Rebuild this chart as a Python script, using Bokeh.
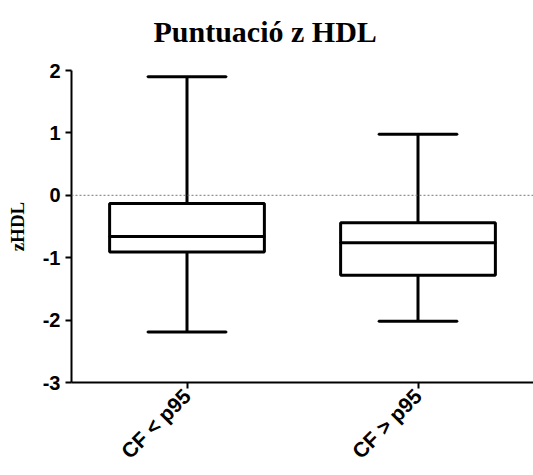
import math
from bokeh.plotting import figure
from bokeh.models import FactorRange, Range1d, FixedTicker, Span, ColumnDataSource, Title
from bokeh.embed import file_html
from bokeh.resources import INLINE

categories = ["CF < p95", "CF > p95"]
whisker_low = [-2.19, -2.02]
q1 = [-0.91, -1.28]
median = [-0.66, -0.76]
q3 = [-0.13, -0.44]
whisker_high = [1.90, 0.98]
y_ticks = [-3, -2, -1, 0, 1, 2]

src = ColumnDataSource(dict(cat=categories, lo=whisker_low, q1=q1, med=median,
                            q3=q3, hi=whisker_high))

p = figure(width=533, height=475, x_range=FactorRange(factors=categories, range_padding=0),
           y_range=Range1d(-3, 2), output_backend="svg", toolbar_location=None,
           min_border_left=71, min_border_right=0, min_border_top=70, min_border_bottom=93)

p.title = Title(text="Puntuació z HDL", align="left", offset=82,
                text_font="Liberation Serif", text_font_size="30px",
                text_font_style="bold", text_color="black", standoff=25,
                vertical_align="top")
# thin spacer between the title and the plot area
p.add_layout(Title(text=" ", text_font_size="6px", standoff=0), "above")

p.outline_line_color = None
p.xgrid.grid_line_color = None
p.ygrid.grid_line_color = None
p.background_fill_color = "white"
p.border_fill_color = "white"

# zero reference line
p.add_layout(Span(location=0, dimension="width", line_color="#777777",
                  line_width=1, line_dash="2 2"))

# whiskers
p.segment(x0="cat", y0="q3", x1="cat", y1="hi", source=src, line_color="black", line_width=3)
p.segment(x0="cat", y0="lo", x1="cat", y1="q1", source=src, line_color="black", line_width=3)
# caps
p.rect(x="cat", y="hi", width=0.34, height=0.0001, source=src, line_color="black",
       line_width=3, fill_color="black")
p.rect(x="cat", y="lo", width=0.34, height=0.0001, source=src, line_color="black",
       line_width=3, fill_color="black")
# boxes
p.vbar(x="cat", bottom="q1", top="q3", width=0.67, source=src, fill_color="white",
       line_color="black", line_width=3)
# medians
p.rect(x="cat", y="med", width=0.67, height=0.0001, source=src, line_color="black",
       line_width=3, fill_color="black")

for ax in (p.xaxis[0], p.yaxis[0]):
    ax.axis_line_width = 2
    ax.axis_line_color = "black"
    ax.major_tick_line_width = 2
    ax.major_tick_line_color = "black"
    ax.major_tick_out = 6
    ax.major_tick_in = 0
    ax.minor_tick_line_color = None
    ax.major_label_text_font = "Liberation Sans"
    ax.major_label_text_font_style = "bold"
    ax.major_label_text_font_size = "20px"
    ax.major_label_text_color = "black"

p.yaxis.ticker = FixedTicker(ticks=y_ticks)
p.yaxis.major_label_overrides = {t: str(t) for t in y_ticks}
p.yaxis.major_label_standoff = 5
p.yaxis.axis_label = "zHDL"
p.yaxis.axis_label_text_font = "Liberation Serif"
p.yaxis.axis_label_text_font_style = "bold"
p.yaxis.axis_label_text_font_size = "19px"
p.yaxis.axis_label_text_color = "black"
p.yaxis.axis_label_standoff = 12

p.xaxis.major_label_orientation = math.pi / 4
p.xaxis.major_label_standoff = 4
p.xaxis.major_label_text_font_size = "21px"

open("out.html", "w").write(file_html(p, INLINE))
